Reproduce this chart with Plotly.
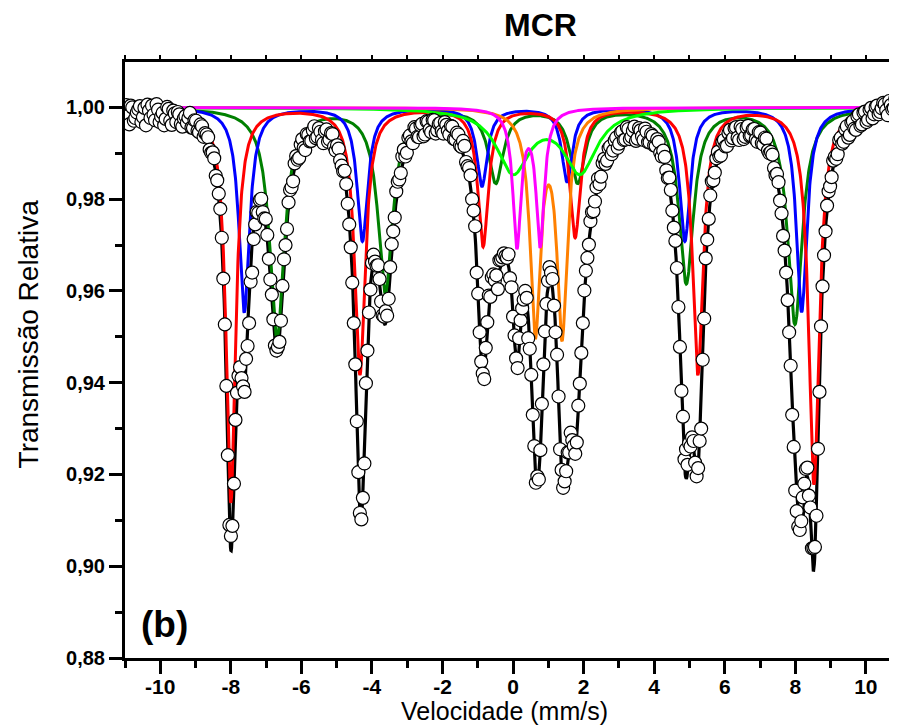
import numpy as np
import plotly.graph_objects as go

# ---------------- measured spectrum (folded channels) ----------------
velocity_start = -10.965   # mm/s of first channel
velocity_step = 0.043      # mm/s per channel
transmission = [
    1.0005, 0.9981, 0.9963, 1.0004, 1.0000, 0.9971, 0.9977, 0.9989, 0.9996, 1.0003,
    0.9968, 0.9979, 0.9999, 0.9961, 1.0006, 0.9993, 0.9977, 1.0004, 0.9984, 0.9972,
    1.0007, 0.9995, 0.9968, 0.9980, 0.9988, 0.9961, 0.9975, 1.0001, 0.9997, 0.9971,
    0.9962, 0.9993, 0.9987, 0.9968, 0.9990, 0.9985, 0.9964, 0.9958, 0.9976, 0.9981,
    0.9966, 0.9977, 0.9988, 0.9956, 0.9955, 0.9972, 0.9971, 0.9949, 0.9946, 0.9963,
    0.9959, 0.9936, 0.9944, 0.9941, 0.9935, 0.9908, 0.9901, 0.9902, 0.9889, 0.9851,
    0.9841, 0.9812, 0.9779, 0.9716, 0.9627, 0.9527, 0.9393, 0.9242, 0.9090, 0.9066,
    0.9088, 0.9180, 0.9319, 0.9378, 0.9415, 0.9434, 0.9410, 0.9392, 0.9380, 0.9452,
    0.9480, 0.9530, 0.9620, 0.9640, 0.9713, 0.9745, 0.9772, 0.9770, 0.9798, 0.9801,
    0.9772, 0.9758, 0.9757, 0.9722, 0.9670, 0.9625, 0.9592, 0.9538, 0.9481, 0.9470,
    0.9478, 0.9489, 0.9535, 0.9611, 0.9669, 0.9700, 0.9735, 0.9793, 0.9820, 0.9826,
    0.9839, 0.9878, 0.9894, 0.9886, 0.9890, 0.9919, 0.9931, 0.9912, 0.9907, 0.9942,
    0.9940, 0.9926, 0.9927, 0.9950, 0.9959, 0.9933, 0.9936, 0.9955, 0.9947, 0.9929,
    0.9922, 0.9948, 0.9952, 0.9925, 0.9930, 0.9944, 0.9942, 0.9915, 0.9906, 0.9918,
    0.9910, 0.9885, 0.9873, 0.9861, 0.9862, 0.9833, 0.9790, 0.9745, 0.9695, 0.9618,
    0.9530, 0.9440, 0.9316, 0.9205, 0.9116, 0.9102, 0.9149, 0.9224, 0.9399, 0.9470,
    0.9553, 0.9603, 0.9661, 0.9679, 0.9664, 0.9655, 0.9656, 0.9626, 0.9577, 0.9547,
    0.9544, 0.9556, 0.9546, 0.9583, 0.9652, 0.9702, 0.9730, 0.9760, 0.9817, 0.9838,
    0.9843, 0.9857, 0.9893, 0.9908, 0.9893, 0.9901, 0.9934, 0.9939, 0.9926, 0.9922,
    0.9957, 0.9954, 0.9936, 0.9935, 0.9961, 0.9964, 0.9937, 0.9941, 0.9970, 0.9969,
    0.9952, 0.9946, 0.9973, 0.9972, 0.9943, 0.9950, 0.9964, 0.9966, 0.9948, 0.9943,
    0.9968, 0.9962, 0.9949, 0.9941, 0.9960, 0.9958, 0.9931, 0.9930, 0.9945, 0.9941,
    0.9917, 0.9914, 0.9927, 0.9916, 0.9881, 0.9872, 0.9868, 0.9852, 0.9800, 0.9775,
    0.9741, 0.9640, 0.9594, 0.9510, 0.9446, 0.9420, 0.9408, 0.9476, 0.9532, 0.9590,
    0.9587, 0.9630, 0.9636, 0.9623, 0.9634, 0.9604, 0.9667, 0.9668, 0.9673, 0.9682,
    0.9676, 0.9672, 0.9680, 0.9628, 0.9608, 0.9544, 0.9503, 0.9453, 0.9432, 0.9497,
    0.9536, 0.9562, 0.9581, 0.9600, 0.9585, 0.9497, 0.9474, 0.9417, 0.9330, 0.9262,
    0.9182, 0.9196, 0.9189, 0.9253, 0.9354, 0.9440, 0.9512, 0.9572, 0.9622, 0.9652,
    0.9640, 0.9626, 0.9568, 0.9510, 0.9461, 0.9370, 0.9255, 0.9210, 0.9171, 0.9185,
    0.9207, 0.9248, 0.9248, 0.9291, 0.9275, 0.9262, 0.9245, 0.9270, 0.9350, 0.9398,
    0.9465, 0.9530, 0.9601, 0.9644, 0.9672, 0.9701, 0.9752, 0.9772, 0.9774, 0.9795,
    0.9826, 0.9845, 0.9833, 0.9849, 0.9879, 0.9888, 0.9877, 0.9884, 0.9911, 0.9915,
    0.9898, 0.9906, 0.9928, 0.9934, 0.9912, 0.9921, 0.9945, 0.9948, 0.9929, 0.9930,
    0.9957, 0.9953, 0.9931, 0.9936, 0.9949, 0.9958, 0.9927, 0.9932, 0.9955, 0.9950,
    0.9937, 0.9929, 0.9954, 0.9947, 0.9924, 0.9924, 0.9942, 0.9938, 0.9917, 0.9916,
    0.9931, 0.9925, 0.9901, 0.9893, 0.9906, 0.9892, 0.9863, 0.9846, 0.9847, 0.9820,
    0.9775, 0.9738, 0.9709, 0.9650, 0.9565, 0.9478, 0.9382, 0.9326, 0.9233, 0.9255,
    0.9221, 0.9268, 0.9261, 0.9281, 0.9273, 0.9226, 0.9196, 0.9214, 0.9273, 0.9300,
    0.9450, 0.9540, 0.9671, 0.9712, 0.9757, 0.9808, 0.9839, 0.9841, 0.9858, 0.9889,
    0.9903, 0.9893, 0.9895, 0.9925, 0.9929, 0.9915, 0.9916, 0.9944, 0.9951, 0.9928,
    0.9933, 0.9955, 0.9957, 0.9934, 0.9929, 0.9958, 0.9953, 0.9931, 0.9936, 0.9956,
    0.9960, 0.9938, 0.9939, 0.9952, 0.9953, 0.9930, 0.9925, 0.9946, 0.9945, 0.9922,
    0.9919, 0.9934, 0.9932, 0.9906, 0.9900, 0.9903, 0.9897, 0.9868, 0.9852, 0.9855,
    0.9837, 0.9797, 0.9769, 0.9720, 0.9688, 0.9640, 0.9580, 0.9510, 0.9437, 0.9330,
    0.9260, 0.9165, 0.9120, 0.9086, 0.9079, 0.9098, 0.9150, 0.9180, 0.9212, 0.9215,
    0.9154, 0.9128, 0.9039, 0.9040, 0.9042, 0.9110, 0.9256, 0.9380, 0.9523, 0.9610,
    0.9678, 0.9730, 0.9786, 0.9817, 0.9828, 0.9848, 0.9884, 0.9892, 0.9888, 0.9898,
    0.9929, 0.9934, 0.9921, 0.9925, 0.9952, 0.9959, 0.9934, 0.9940, 0.9967, 0.9970,
    0.9954, 0.9951, 0.9981, 0.9985, 0.9960, 0.9963, 0.9989, 0.9991, 0.9968, 0.9973,
    0.9995, 0.9999, 0.9976, 0.9985, 1.0001, 1.0004, 0.9985, 0.9990, 0.9998, 1.0010,
    1.0007, 0.9994, 0.9983, 1.0014, 1.0005, 0.9996, 0.9998, 1.0019, 1.0012, 1.0008,
    1.0017,
]

# ---------------- fitted sub-spectra (line positions mm/s, depths, FWHM mm/s) ----------------
red_pos = [-8.00, -4.34, -0.85, 1.76, 5.24, 8.53]
red_depth = [0.086, 0.058, 0.030, 0.028, 0.058, 0.082]
red_fwhm = [0.32, 0.36, 0.36, 0.36, 0.36, 0.36]

blue_pos = [-7.62, -4.27, -0.88, 1.53, 4.87, 8.18]
blue_depth = [0.0446, 0.029, 0.017, 0.016, 0.029, 0.0445]
blue_fwhm = [0.36, 0.36, 0.36, 0.36, 0.36, 0.36]

green_pos = [-6.69, -3.62, -0.49, 1.83, 4.91, 7.99]
green_depth = [0.050, 0.040, 0.016, 0.016, 0.038, 0.047]
green_fwhm = [0.50, 0.50, 0.50, 0.50, 0.50, 0.50]

orange_pos = [0.63, 1.39]
orange_depth = [0.048, 0.0485]
orange_fwhm = [0.35, 0.35]

lime_pos = [0.00, 1.90]
lime_depth = [0.0136, 0.0136]
lime_fwhm = [1.12, 1.12]

magenta_pos = [0.11, 0.77]
magenta_depth = [0.0296, 0.0293]
magenta_fwhm = [0.28, 0.28]

x_ticks = [-10, -8, -6, -4, -2, 0, 2, 4, 6, 8, 10]
x_tick_labels = ["-10", "-8", "-6", "-4", "-2", "0", "2", "4", "6", "8", "10"]

# ---------------- build ----------------
velocity = velocity_start + velocity_step * np.arange(len(transmission))
v = np.linspace(-11.2, 11.2, 2241)


def absorption(pos, depth, fwhm):
    out = np.zeros_like(v)
    for p, d, w in zip(pos, depth, fwhm):
        g = (w / 2.0) ** 2
        out += d * g / ((v - p) ** 2 + g)
    return out


components = [
    ("Sexteto 3", green_pos, green_depth, green_fwhm, "#008000"),
    ("Sexteto 2", blue_pos, blue_depth, blue_fwhm, "#0000FF"),
    ("Sexteto 1", red_pos, red_depth, red_fwhm, "#FF0000"),
    ("Dubleto 1", orange_pos, orange_depth, orange_fwhm, "#FF8000"),
    ("Dubleto 2", lime_pos, lime_depth, lime_fwhm, "#00FF00"),
    ("Dubleto 3", magenta_pos, magenta_depth, magenta_fwhm, "#FF00FF"),
]

total = np.ones_like(v)
for _, p, d, w, _c in components:
    total -= absorption(p, d, w)

fig = go.Figure()
fig.add_trace(go.Scatter(x=v, y=total, mode="lines", name="Ajuste",
                         line=dict(color="black", width=3.2), hoverinfo="skip"))
for name, p, d, w, c in components:
    fig.add_trace(go.Scatter(x=v, y=1 - absorption(p, d, w), mode="lines", name=name,
                             line=dict(color=c, width=3), hoverinfo="skip"))
fig.add_trace(go.Scatter(x=velocity, y=transmission, mode="markers", name="Dados",
                         marker=dict(symbol="circle", size=13, color="white",
                                     line=dict(color="black", width=1.2))))
# helper trace so the top axis (small ticks) is drawn
fig.add_trace(go.Scatter(x=[0], y=[2], xaxis="x2", mode="markers", showlegend=False,
                         hoverinfo="skip", marker=dict(color="rgba(0,0,0,0)")))

font_family = "Liberation Sans, Arial, sans-serif"
xr = [-11, 10.883]

# the page body adds an 8 px offset, so the figure is 8 px smaller and margins shifted
fig.update_layout(
    width=889, height=720,
    margin=dict(l=117, r=0, t=54, b=70, autoexpand=False),
    paper_bgcolor="white", plot_bgcolor="white",
    showlegend=False,
    separators=",.",
    font=dict(family=font_family, color="black"),
    xaxis=dict(
        range=xr, tickmode="array", tickvals=x_ticks, ticktext=x_tick_labels,
        ticks="outside", ticklen=13, tickwidth=3, tickcolor="black",
        showline=True, linewidth=3, linecolor="black", mirror=False,
        showgrid=False, zeroline=False, automargin=False, ticklabelstandoff=-5,
        tickfont=dict(size=21, weight="bold", family=font_family),
        minor=dict(dtick=1, tick0=0, ticks="outside", ticklen=7, tickwidth=3,
                   tickcolor="black", showgrid=False),
    ),
    xaxis2=dict(
        range=xr, overlaying="x", side="top", showline=True, linewidth=3, linecolor="black",
        ticks="outside", ticklen=4, tickwidth=2, tickcolor="black", tickmode="linear",
        tick0=0, dtick=1, showticklabels=False, showgrid=False, zeroline=False,
        automargin=False,
    ),
    yaxis=dict(
        range=[0.88, 1.0099], tickmode="linear", tick0=0.88, dtick=0.02, tickformat=".2f",
        ticks="outside", ticklen=13, tickwidth=3, tickcolor="black",
        showline=True, linewidth=3, linecolor="black", mirror=False,
        showgrid=False, zeroline=False, automargin=False,
        tickfont=dict(size=20, weight="bold", family=font_family),
        minor=dict(dtick=0.01, tick0=0.88, ticks="outside", ticklen=7, tickwidth=3,
                   tickcolor="black", showgrid=False),
    ),
    annotations=[
        dict(text="<b>MCR</b>", x=0.5376, y=1.0621, xref="paper", yref="paper",
             showarrow=False, font=dict(size=32, family=font_family),
             xanchor="center", yanchor="middle"),
        dict(text="Velocidade (mm/s)", x=0.492, y=-0.089, xref="paper", yref="paper",
             showarrow=False, font=dict(size=25, family=font_family),
             xanchor="center", yanchor="middle"),
        dict(text="Transmissão Relativa", x=-0.1256, y=0.543, xref="paper", yref="paper",
             textangle=-90, showarrow=False, font=dict(size=28, family=font_family),
             xanchor="center", yanchor="middle"),
        dict(text="<b>(b)</b>", x=0.0518, y=0.0563, xref="paper", yref="paper",
             showarrow=False, font=dict(size=37, family=font_family),
             xanchor="center", yanchor="middle"),
    ],
)

fig.write_html("out.html", config={"displayModeBar": False})
